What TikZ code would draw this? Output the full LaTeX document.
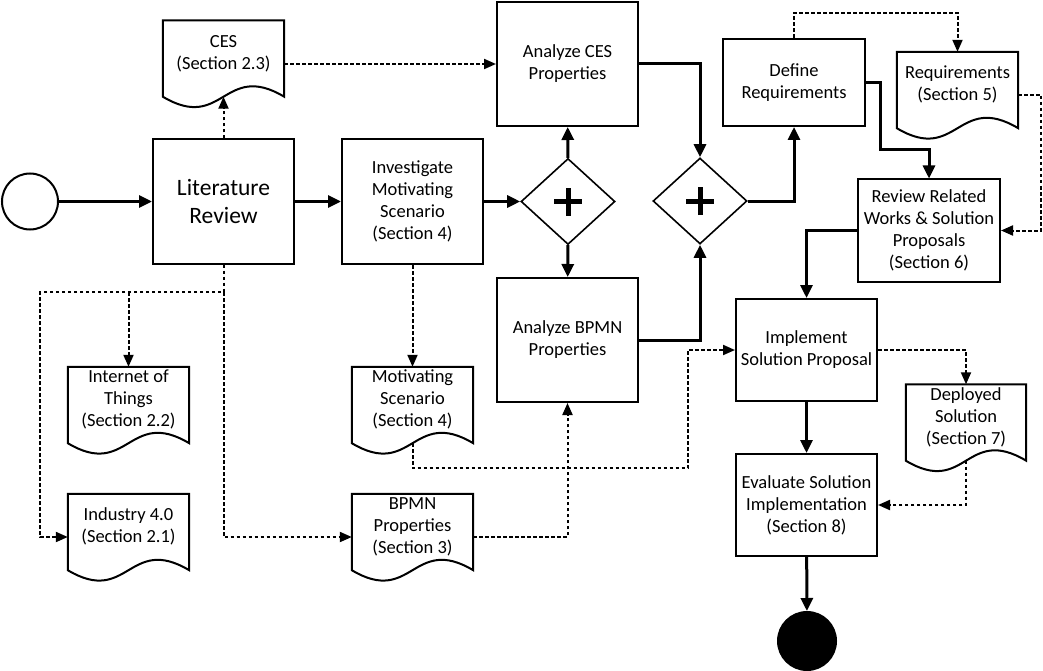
\documentclass[tikz,border=0pt]{standalone}
\usepackage{fontspec}
\setmainfont{Carlito}
\usetikzlibrary{shapes.geometric,arrows.meta}

\tikzset{
  task/.style={draw,line width=2pt,minimum width=141pt,minimum height=124pt,inner sep=0pt,align=center,font=\fontsize{18.5}{22}\selectfont},
  doc/.style={minimum width=121pt,minimum height=76pt,inner sep=0pt,align=center,text depth=13pt,font=\fontsize{18.5}{22}\selectfont},
  docline/.style={line width=2pt},
  gate/.style={draw,diamond,line width=1.6pt,minimum width=94pt,minimum height=86pt,inner sep=0pt},
  event/.style={draw,circle,line width=2pt,inner sep=0pt},
  flow/.style={line width=3pt,-{Triangle[length=13pt,width=12pt]}},
  assoc/.style={line width=2pt,dash pattern=on 3.5pt off 2.5pt,-{Triangle[length=12pt,width=10pt]}},
}

\begin{document}
\begin{tikzpicture}[x=1pt,y=-1pt]
        \useasboundingbox (0,0) rectangle (1043,671);

        % Events
        \node[event,minimum size=56pt] (start) at (30,201.5) {};
        \node[event,fill=black,minimum size=58pt] (stop) at (807,641) {};

        % Tasks
        \node[task,font=\fontsize{23.5}{28}\selectfont] (lit) at (223.5,201.5) {Literature\\Review};
        \node[task,minimum height=125pt] (inv) at (412.5,201.5) {Investigate\\Motivating\\Scenario\\(Section 4)};
        \node[task] (anaces) at (567.5,64) {Analyze CES\\Properties};
        \node[task] (anabpmn) at (567.5,340) {Analyze BPMN\\Properties};
        \node[task,minimum width=142pt,minimum height=87pt] (defreq) at (794,82.5) {Define\\Requirements};
        \node[task,minimum width=142pt,minimum height=102pt] (review) at (929,230.5) {Review Related\\Works \& Solution\\Proposals\\(Section 6)};
        \node[task,minimum height=102pt] (impl) at (806.5,350) {Implement\\Solution Proposal};
        \node[task,minimum height=102pt] (eval) at (806.5,505) {Evaluate Solution\\Implementation\\(Section 8)};

        % Gateways
        \node[gate] (g1) at (568,201.5) {};
        \node[gate] (g2) at (700,201) {};
        \foreach \g in {g1,g2}
          \draw[line width=5pt] ([xshift=-14pt]\g.center) -- ([xshift=14pt]\g.center)
                                ([yshift=-14pt]\g.center) -- ([yshift=14pt]\g.center);

        % Documents
        \node[doc] (ces) at (223.5,58.5) {CES\\(Section 2.3)};
        \node[doc] (req) at (957.5,90) {Requirements\\(Section 5)};
        \node[doc] (iot) at (128.5,405) {Internet of\\Things\\(Section 2.2)};
        \node[doc] (ind) at (128.5,532) {Industry 4.0\\(Section 2.1)};
        \node[doc] (mot) at (412.5,405) {Motivating\\Scenario\\(Section 4)};
        \node[doc] (bpmnp) at (412.5,532) {BPMN\\Properties\\(Section 3)};
        \node[doc,minimum width=120pt] (dep) at (966,422.5) {Deployed\\Solution\\(Section 7)};
        \foreach \d in {ces,req,iot,ind,mot,bpmnp,dep}
          \draw[docline] (\d.north west) -- (\d.north east) -- (\d.south east)
            .. controls +(-60.5,-36) and +(60.5,36) .. (\d.south west) -- cycle;

        % Sequence flows
        \draw[flow] (start) -- (lit);
        \draw[flow] (lit) -- (inv);
        \draw[flow] (inv) -- (g1);
        \draw[flow] (g1) -- (anaces);
        \draw[flow] (g1) -- (anabpmn);
        \draw[flow] (anaces.east) -| (g2.north);
        \draw[flow] (anabpmn.east) -| (g2.south);
        \draw[flow] (g2.east) -| (defreq.south);
        \draw[flow] (defreq.east) -- ++(14,0) -- ++(0,67) -| (review.north);
        \draw[flow] (review.west) -| (impl.north);
        \draw[flow] (impl) -- (eval);
        \draw[flow] (eval) -- (stop);

        % Associations
        \coordinate (split) at (223.5,292);
        \draw[assoc] (lit.north) -- (ces.south);
        \draw[assoc] (ces.east |- anaces.west) -- (anaces.west);
        \draw[assoc] (lit.south) -- (split) -- (40,292) |- ([yshift=-5pt]ind.west);
        \draw[assoc] (split -| iot.north) -- (iot.north);
        \draw[assoc] (split) |- ([yshift=-5pt]bpmnp.west);
        \draw[assoc] (inv.south) -- (mot.north);
        \draw[assoc] (mot.south) -- ++(0,25) -- ++(275.5,0) |- (impl.west);
        \draw[assoc] ([yshift=-5pt]bpmnp.east) -| (anabpmn.south);
        \draw[assoc] (defreq.north) -- ++(0,-25) -| (req.north);
        \draw[assoc] ([yshift=-5pt]req.east) -- ++(23,0) |- (review.east);
        \draw[assoc] (impl.east) -| (dep.north);
        \draw[assoc] (dep.south) |- (eval.east);
    \end{tikzpicture}
\end{document}
